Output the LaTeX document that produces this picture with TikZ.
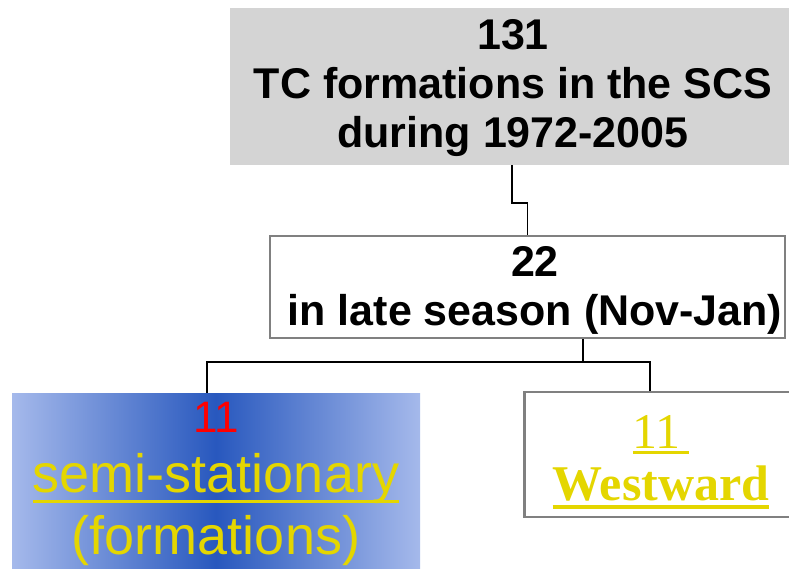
\documentclass[tikz,border=0pt]{standalone}
\usepackage{fontspec}
\setmainfont{Liberation Serif}
\newfontfamily\arialfont{Liberation Sans}
\usepackage{xcolor}
\definecolor{boxgray}{RGB}{212,212,212}
\definecolor{edgegray}{RGB}{128,128,128}
\definecolor{txtyellow}{RGB}{228,214,0}
\definecolor{deepblue}{RGB}{40,88,190}
\definecolor{paleblue}{RGB}{165,185,235}
% underline with a given drop and thickness
\newcommand{\fatul}[3]{\setbox0\hbox{#3}\rlap{\rule[-#1]{\wd0}{#2}}\box0}
\tikzset{
  headbox/.style={fill=boxgray, minimum width=564pt, minimum height=157pt, inner sep=0pt},
  seasonbox/.style={draw=edgegray, line width=2pt, fill=white, minimum width=515pt, minimum height=102pt, inner sep=0pt},
  westbox/.style={draw=edgegray, line width=2.5pt, fill=white, minimum width=275pt, minimum height=125pt, inner sep=0pt},
  link/.style={black, line width=1.8pt},
  boldtxt/.style={font=\arialfont\bfseries\fontsize{43}{49}\selectfont, align=center}
}
\begin{document}
\begin{tikzpicture}[x=1pt, y=-1pt]
    \useasboundingbox (0,0) rectangle (789,568);
    \clip (0,0) rectangle (789,568);
    \fill[white] (0,0) rectangle (789,568);

    % Boxes
    \node[headbox] (top) at (512,86.5) {};
    \node[seasonbox] (mid) at (527.5,287) {};
    \shade[left color=paleblue, right color=paleblue, middle color=deepblue] (12,393) rectangle (420,580);
    \node[minimum width=408pt, minimum height=187pt, inner sep=0pt] (semi) at (216,486.5) {};
    \node[westbox] (west) at (662,454.5) {};

    % Texts
    \node[boldtxt] (toptxt) at (513,88) {131\\TC formations in the SCS\\during 1972-2005};
    \node[boldtxt] (midtxt) at (535,290) {22\\in late season (Nov-Jan)};
    \node[red, font=\arialfont\fontsize{44}{50}\selectfont] (semin) at (216,417) {11};
    \node[txtyellow, font=\arialfont\fontsize{54}{62}\selectfont, align=center] (semitxt) at (216,510)
        {\fatul{10pt}{3pt}{semi-stationary}\\(formations)};
    \node[txtyellow, font=\fontsize{50}{52}\selectfont, align=center] (westtxt) at (661,462)
        {\fatul{5pt}{3pt}{11\,}\\\textbf{\fatul{8pt}{4pt}{Westward}}};

    % Connectors
    \coordinate (bend) at (512,203);
    \coordinate (split) at (583,362);
    \coordinate (leftend) at (207,362);
    \coordinate (rightend) at (650,362);
    \draw[link] (top.south) -- (bend) -| (mid.north);
    \draw[link] (mid.south -| split) -- (split);
    \draw[link] (semi.north -| leftend) -- (leftend) -- (rightend) -- (west.north -| rightend);
\end{tikzpicture}
\end{document}
